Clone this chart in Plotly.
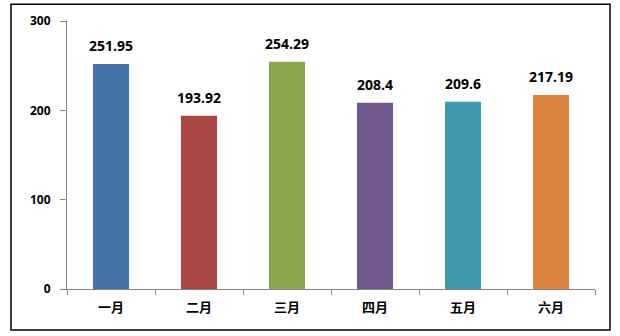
import plotly.graph_objects as go

months = ["一月", "二月", "三月", "四月", "五月", "六月"]
values = [251.95, 193.92, 254.29, 208.4, 209.6, 217.19]
labels = ["251.95", "193.92", "254.29", "208.4", "209.6", "217.19"]
colors = ["#4572A7", "#AA4643", "#89A54E", "#71588F", "#4198AF", "#DB843D"]

W, H = 620, 336
L, R, T, B = 67, 25, 15, 47
pw, ph = W - L - R, H - T - B

fig = go.Figure(go.Bar(
    x=months, y=values,
    marker=dict(color=colors, line=dict(width=0)),
    cliponaxis=False, width=0.41,
))

for m, v, t in zip(months, values, labels):
    fig.add_annotation(x=m, y=v, text=t, showarrow=False, yanchor="bottom", yshift=7,
                       font=dict(family="Open Sans", size=14, color="#000000", weight="bold"))

def px2x(p):
    return (p - L) / pw

def px2y(p):
    return (H - B - p) / ph

fig.add_shape(type="rect", xref="paper", yref="paper",
              x0=px2x(11), x1=px2x(610), y0=px2y(331), y1=px2y(-2),
              line=dict(color="#000000", width=1.5), fillcolor="rgba(0,0,0,0)", layer="below")

fig.update_layout(
    width=W, height=H, margin=dict(l=L, r=R, t=T, b=B),
    paper_bgcolor="white", plot_bgcolor="white", showlegend=False,
    font=dict(family="Open Sans, Noto Sans CJK SC", size=12, color="#000000"),
    xaxis=dict(showline=True, linecolor="#868686", linewidth=1, ticks="outside",
               tickson="boundaries", ticklen=5, tickcolor="#868686", showgrid=False,
               ticklabelstandoff=6,
               tickfont=dict(family="Noto Sans CJK SC", size=13, weight="bold")),
    yaxis=dict(range=[0, 300], dtick=100, showline=True, linecolor="#868686", linewidth=1,
               ticks="outside", ticklen=6, tickcolor="#868686", showgrid=False, zeroline=False,
               ticklabelstandoff=7,
               tickfont=dict(family="Open Sans", size=12, weight="bold")),
    bargap=0.59,
)

fig.write_html("out.html")
